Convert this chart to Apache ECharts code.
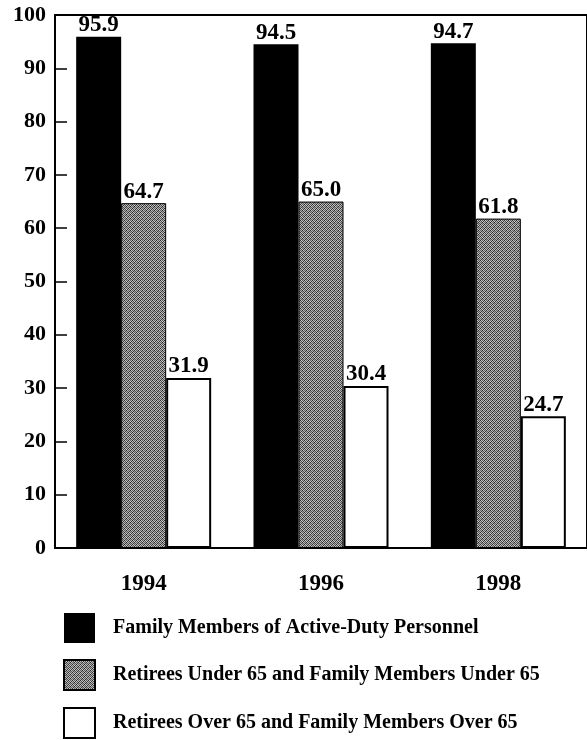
<!DOCTYPE html>
<html>
<head>
<meta charset="utf-8">
<script src="https://cdn.jsdelivr.net/npm/echarts@6/dist/echarts.min.js"></script>
<style>
  html, body { margin: 0; padding: 0; background: #fff; }
  #main { width: 587px; height: 740px; }
</style>
</head>
<body>
<div id="main"></div>
<script>
const years = ['1994', '1996', '1998'];
const activeDuty = [95.9, 94.5, 94.7];
const retireesUnder65 = [64.7, 65.0, 61.8];
const retireesOver65 = [31.9, 30.4, 24.7];
const seriesNames = [
  'Family Members of Active-Duty Personnel',
  'Retirees Under 65 and Family Members Under 65',
  'Retirees Over 65 and Family Members Over 65'
];

const FONT = '"Liberation Serif", "Times New Roman", serif';

// stippled grey fill, a small fixed dither tile
function stipple() {
  const c = document.createElement('canvas');
  c.width = 4;
  c.height = 4;
  const ctx = c.getContext('2d');
  const tones = [
    ['#2a2a2a', '#c8c8c8', '#5a5a5a', '#b0b0b0'],
    ['#bcbcbc', '#4a4a4a', '#d0d0d0', '#363636'],
    ['#626262', '#a8a8a8', '#262626', '#c0c0c0'],
    ['#b4b4b4', '#404040', '#a0a0a0', '#565656']
  ];
  for (let y = 0; y < 4; y++) {
    for (let x = 0; x < 4; x++) {
      ctx.fillStyle = tones[y][x];
      ctx.fillRect(x, y, 1, 1);
    }
  }
  return { image: c, repeat: 'repeat' };
}

const valueLabel = {
  show: true,
  position: 'top',
  distance: 0,
  color: '#000',
  fontFamily: FONT,
  fontWeight: 'bold',
  fontSize: 23,
  formatter: p => p.value.toFixed(1)
};

const chart = echarts.init(document.getElementById('main'));
const option = {
  backgroundColor: '#fff',
  animation: false,
  grid: {
    left: 55,
    top: 15,
    width: 534,
    height: 533,
    show: true,
    borderColor: '#000',
    borderWidth: 2,
    backgroundColor: 'transparent'
  },
  legend: {
    orient: 'vertical',
    left: 63,
    top: 613,
    height: 130,
    padding: 0,
    itemWidth: 31,
    itemHeight: 30,
    itemGap: 16,
    icon: 'rect',
    data: seriesNames,
    textStyle: {
      color: '#000',
      fontFamily: FONT,
      fontWeight: 'bold',
      fontSize: 20,
      padding: [0, 0, 0, 13]
    }
  },
  xAxis: {
    type: 'category',
    data: years,
    axisLine: { lineStyle: { color: '#000', width: 2 } },
    axisTick: { show: false },
    axisLabel: {
      color: '#000',
      fontFamily: FONT,
      fontWeight: 'bold',
      fontSize: 23,
      margin: 25
    }
  },
  yAxis: {
    type: 'value',
    min: 0,
    max: 100,
    interval: 10,
    splitLine: { show: false },
    axisLine: { show: true, lineStyle: { color: '#000', width: 2 } },
    axisTick: { show: true, inside: true, length: 12, lineStyle: { color: '#000', width: 1.5 } },
    axisLabel: {
      color: '#000',
      fontFamily: FONT,
      fontWeight: 'bold',
      fontSize: 22,
      margin: 9
    }
  },
  series: [
    {
      name: seriesNames[0],
      type: 'bar',
      data: activeDuty,
      barWidth: 45,
      barGap: '0%',
      itemStyle: { color: '#000' },
      label: valueLabel
    },
    {
      name: seriesNames[1],
      type: 'bar',
      data: retireesUnder65,
      barWidth: 45,
      barGap: '0%',
      itemStyle: { color: stipple(), borderColor: '#000', borderWidth: 1 },
      label: valueLabel
    },
    {
      name: seriesNames[2],
      type: 'bar',
      data: retireesOver65,
      barWidth: 45,
      barGap: '0%',
      itemStyle: { color: '#fff', borderColor: '#000', borderWidth: 2 },
      label: valueLabel
    }
  ]
};
chart.setOption(option);
</script>
</body>
</html>
